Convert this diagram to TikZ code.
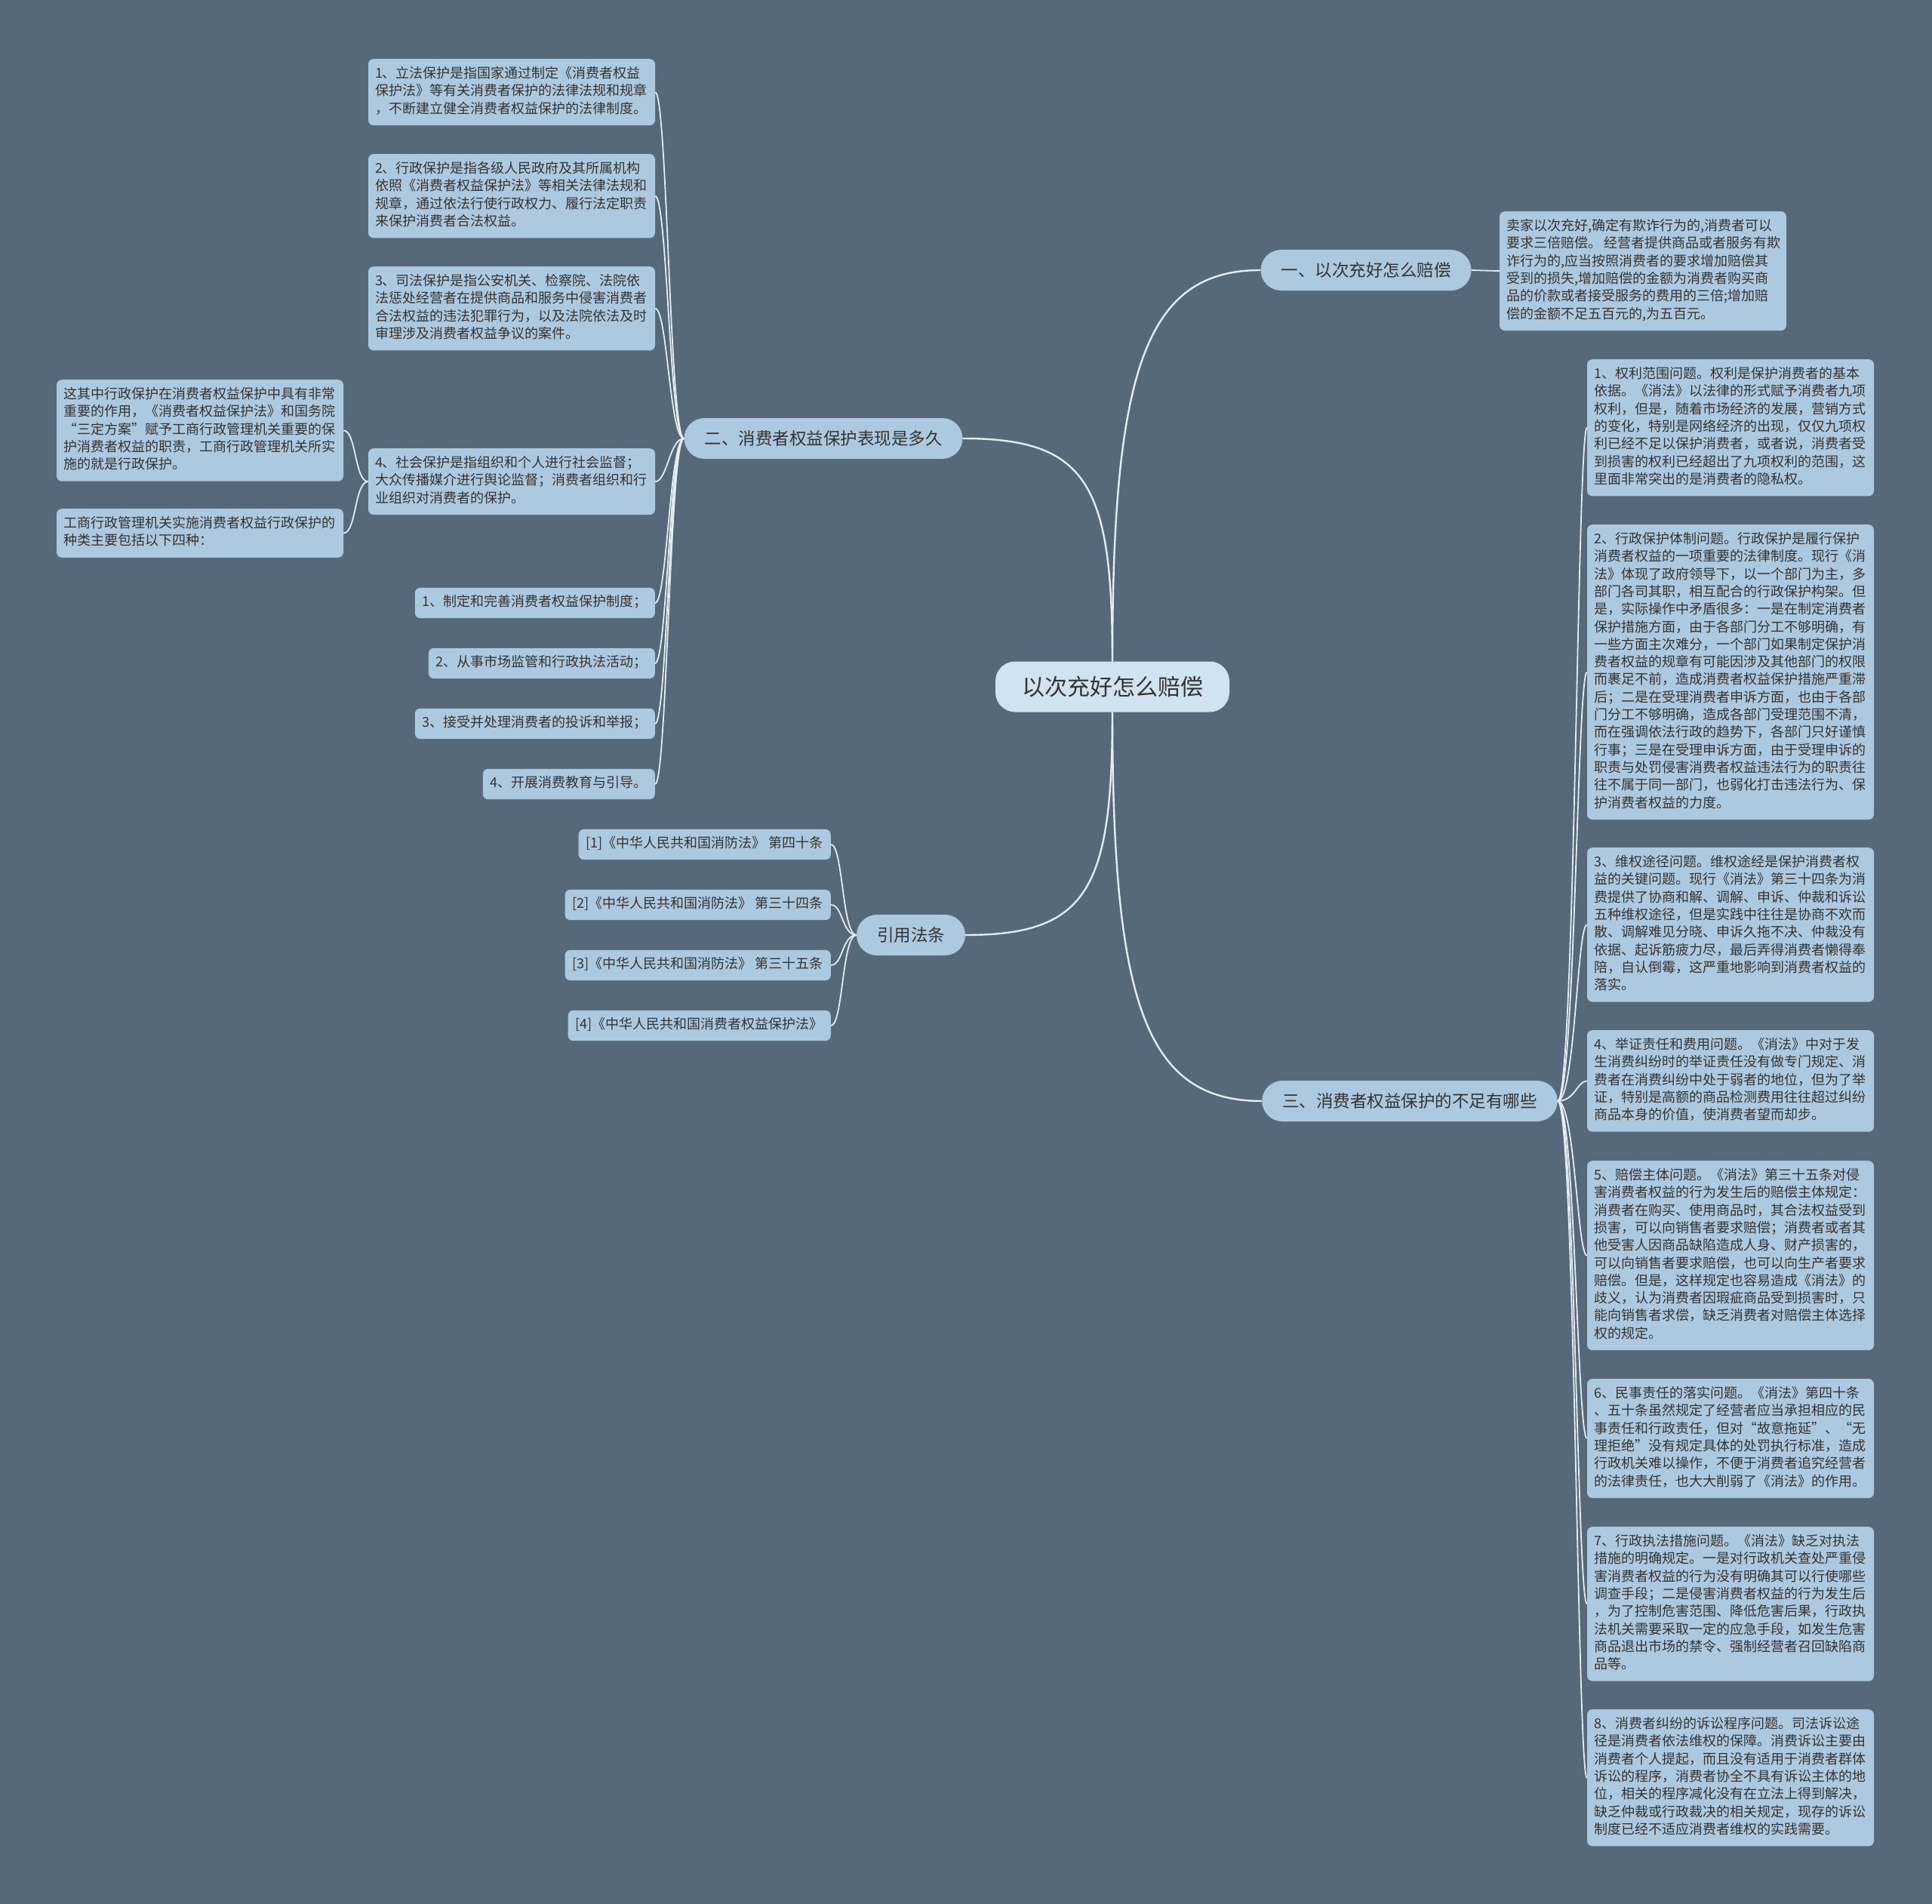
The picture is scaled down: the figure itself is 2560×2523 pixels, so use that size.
\documentclass[tikz,border=0pt]{standalone}
\usepackage{fontspec}
\setmainfont{Noto Sans CJK SC}
\definecolor{bg}{HTML}{56697A}
\definecolor{leafc}{HTML}{ADC9DF}
\definecolor{centerc}{HTML}{CFE3F0}
\definecolor{txt}{HTML}{333333}
\definecolor{lnk}{HTML}{E3ECF2}
\tikzset{
 leafbox/.style={fill=leafc, rounded corners=7pt, text=txt, font=\fontsize{18}{23.3}\selectfont, inner xsep=9pt, inner ysep=9pt, align=left, text width=362pt, anchor=north, execute at begin node=\strut, execute at end node=\strut},
 linebox/.style={fill=leafc, rounded corners=7pt, text=txt, font=\fontsize{18}{23.3}\selectfont, inner xsep=10pt, inner ysep=8.5pt, text height=16.3pt, text depth=7pt, anchor=east},
 branchbox/.style={fill=leafc, rounded corners=27pt, text=txt, font=\fontsize{22.5}{27}\selectfont, inner xsep=27pt, minimum height=54pt, inner ysep=0pt},
 centerbox/.style={fill=centerc, rounded corners=26pt, text=txt, font=\fontsize{30}{36}\selectfont, inner xsep=35pt, minimum height=67pt, inner ysep=0pt},
 mainlink/.style={draw=lnk, line width=2.4pt},
 sublink/.style={draw=lnk, line width=1.8pt},
}
\begin{document}
\begin{tikzpicture}[x=1pt,y=-1pt]
\fill[bg] (0,0) rectangle (2560,2523);
\useasboundingbox (0,0) rectangle (2560,2523);

% center and branches
\node[centerbox] (c) at (1474,910) {以次充好怎么赔偿};
\node[branchbox] (b1) at (1810,358) {一、以次充好怎么赔偿};
\node[branchbox] (b2) at (1091,581) {二、消费者权益保护表现是多久};
\node[branchbox] (b3) at (1868,1459) {三、消费者权益保护的不足有哪些};
\node[branchbox] (b4) at (1207,1239) {引用法条};

% branch 1 leaf
\node[leafbox] (r0) at (2177,280) {卖家以次充好,确定有欺诈行为的,消费者可以\\要求三倍赔偿。\kern3pt 经营者提供商品或者服务有欺\\诈行为的,应当按照消费者的要求增加赔偿其\\受到的损失,增加赔偿的金额为消费者购买商\\品的价款或者接受服务的费用的三倍;增加赔\\偿的金额不足五百元的,为五百元。};

% branch 2 leaves
\node[leafbox] (l1) at (678,78) {1、立法保护是指国家通过制定《消费者权益\\保护法》等有关消费者保护的法律法规和规章\\，不断建立健全消费者权益保护的法律制度。};
\node[leafbox] (l2) at (678,204) {2、行政保护是指各级人民政府及其所属机构\\依照《消费者权益保护法》等相关法律法规和\\规章，通过依法行使行政权力、履行法定职责\\来保护消费者合法权益。};
\node[leafbox] (l3) at (678,353) {3、司法保护是指公安机关、检察院、法院依\\法惩处经营者在提供商品和服务中侵害消费者\\合法权益的违法犯罪行为，以及法院依法及时\\审理涉及消费者权益争议的案件。};
\node[leafbox] (l4) at (678,594) {4、社会保护是指组织和个人进行社会监督；\\大众传播媒介进行舆论监督；消费者组织和行\\业组织对消费者的保护。};
\node[leafbox] (la) at (265,503) {这其中行政保护在消费者权益保护中具有非常\\重要的作用，《消费者权益保护法》和国务院\\“三定方案”赋予工商行政管理机关重要的保\\护消费者权益的职责，工商行政管理机关所实\\施的就是行政保护。};
\node[leafbox] (lb) at (265,674) {工商行政管理机关实施消费者权益行政保护的\\种类主要包括以下四种：};
\node[linebox] (s1) at (868,799) {1、制定和完善消费者权益保护制度；};
\node[linebox] (s2) at (868,879) {2、从事市场监管和行政执法活动；};
\node[linebox] (s3) at (868,959) {3、接受并处理消费者的投诉和举报；};
\node[linebox] (s4) at (868,1039) {4、开展消费教育与引导。};

% branch 4 leaves
\node[linebox] (c1) at (1101,1119) {[1]《中华人民共和国消防法》 第四十条};
\node[linebox] (c2) at (1101,1199) {[2]《中华人民共和国消防法》 第三十四条};
\node[linebox] (c3) at (1101,1279) {[3]《中华人民共和国消防法》 第三十五条};
\node[linebox] (c4) at (1101,1359) {[4]《中华人民共和国消费者权益保护法》};

% branch 3 leaves
\node[leafbox] (r1) at (2293,476) {1、权利范围问题。权利是保护消费者的基本\\依据。《消法》以法律的形式赋予消费者九项\\权利，但是，随着市场经济的发展，营销方式\\的变化，特别是网络经济的出现，仅仅九项权\\利已经不足以保护消费者，或者说，消费者受\\到损害的权利已经超出了九项权利的范围，这\\里面非常突出的是消费者的隐私权。};
\node[leafbox] (r2) at (2293,695) {2、行政保护体制问题。行政保护是履行保护\\消费者权益的一项重要的法律制度。现行《消\\法》体现了政府领导下，以一个部门为主，多\\部门各司其职，相互配合的行政保护构架。但\\是，实际操作中矛盾很多：一是在制定消费者\\保护措施方面，由于各部门分工不够明确，有\\一些方面主次难分，一个部门如果制定保护消\\费者权益的规章有可能因涉及其他部门的权限\\而裹足不前，造成消费者权益保护措施严重滞\\后；二是在受理消费者申诉方面，也由于各部\\门分工不够明确，造成各部门受理范围不清，\\而在强调依法行政的趋势下，各部门只好谨慎\\行事；三是在受理申诉方面，由于受理申诉的\\职责与处罚侵害消费者权益违法行为的职责往\\往不属于同一部门，也弱化打击违法行为、保\\护消费者权益的力度。};
\node[leafbox] (r3) at (2293,1123) {3、维权途径问题。维权途经是保护消费者权\\益的关键问题。现行《消法》第三十四条为消\\费提供了协商和解、调解、申诉、仲裁和诉讼\\五种维权途径，但是实践中往往是协商不欢而\\散、调解难见分晓、申诉久拖不决、仲裁没有\\依据、起诉筋疲力尽，最后弄得消费者懒得奉\\陪，自认倒霉，这严重地影响到消费者权益的\\落实。};
\node[leafbox] (r4) at (2293,1365) {4、举证责任和费用问题。《消法》中对于发\\生消费纠纷时的举证责任没有做专门规定、消\\费者在消费纠纷中处于弱者的地位，但为了举\\证，特别是高额的商品检测费用往往超过纠纷\\商品本身的价值，使消费者望而却步。};
\node[leafbox] (r5) at (2293,1538) {5、赔偿主体问题。《消法》第三十五条对侵\\害消费者权益的行为发生后的赔偿主体规定：\\消费者在购买、使用商品时，其合法权益受到\\损害，可以向销售者要求赔偿；消费者或者其\\他受害人因商品缺陷造成人身、财产损害的，\\可以向销售者要求赔偿，也可以向生产者要求\\赔偿。但是，这样规定也容易造成《消法》的\\歧义，认为消费者因瑕疵商品受到损害时，只\\能向销售者求偿，缺乏消费者对赔偿主体选择\\权的规定。};
\node[leafbox] (r6) at (2293,1827) {6、民事责任的落实问题。《消法》第四十条\\、五十条虽然规定了经营者应当承担相应的民\\事责任和行政责任，但对“故意拖延”、“无\\理拒绝”没有规定具体的处罚执行标准，造成\\行政机关难以操作，不便于消费者追究经营者\\的法律责任，也大大削弱了《消法》的作用。};
\node[leafbox] (r7) at (2293,2023) {7、行政执法措施问题。《消法》缺乏对执法\\措施的明确规定。一是对行政机关查处严重侵\\害消费者权益的行为没有明确其可以行使哪些\\调查手段；二是侵害消费者权益的行为发生后\\，为了控制危害范围、降低危害后果，行政执\\法机关需要采取一定的应急手段，如发生危害\\商品退出市场的禁令、强制经营者召回缺陷商\\品等。};
\node[leafbox] (r8) at (2293,2265) {8、消费者纠纷的诉讼程序问题。司法诉讼途\\径是消费者依法维权的保障。消费诉讼主要由\\消费者个人提起，而且没有适用于消费者群体\\诉讼的程序，消费者协全不具有诉讼主体的地\\位，相关的程序减化没有在立法上得到解决，\\缺乏仲裁或行政裁决的相关规定，现存的诉讼\\制度已经不适应消费者维权的实践需要。};

% main links
\draw[mainlink] (c.north) .. controls (1474,490) and (1518,358) .. (b1.west);
\draw[mainlink] (c.north) .. controls (1474,640) and (1440,581) .. (b2.east);
\draw[mainlink] (c.south) .. controls (1474,1330) and (1518,1459) .. (b3.west);
\draw[mainlink] (c.south) .. controls (1474,1180) and (1440,1239) .. (b4.east);

% branch 1
\draw[sublink] (b1.east) -- (r0.west);

% branch 2
\foreach \n in {l1,l2,l3,l4,s1,s2,s3,s4}{
  \draw[sublink] (b2.west) .. controls +(-19,0) and +(16,0) .. (\n.east);
}
% sub-leaves of l4
\foreach \n in {la,lb}{
  \draw[sublink] (l4.west) .. controls +(-18,0) and +(17,0) .. (\n.east);
}
% branch 4
\foreach \n in {c1,c2,c3,c4}{
  \draw[sublink] (b4.west) .. controls +(-19,0) and +(16,0) .. (\n.east);
}
% branch 3
\foreach \n in {r1,r2,r3,r4,r5,r6,r7,r8}{
  \draw[sublink] (b3.east) .. controls +(23,0) and +(-13,0) .. (\n.west);
}
\end{tikzpicture}
\end{document}
